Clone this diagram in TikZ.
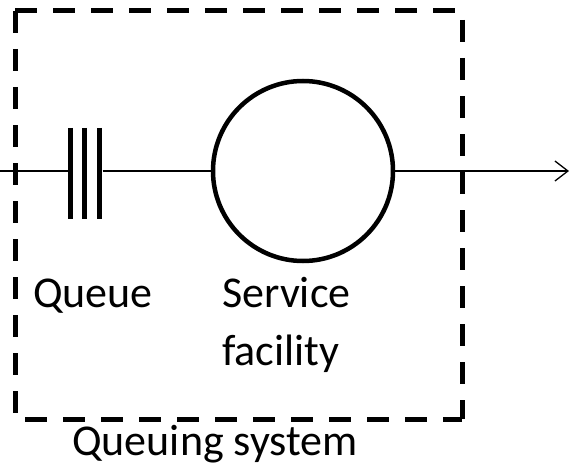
\documentclass[tikz,border=0pt]{standalone}
\usepackage{fontspec}
\setmainfont{Carlito}
\usetikzlibrary{arrows.meta}
\begin{document}
\begin{tikzpicture}[x=1pt,y=1pt,
  flow/.style={line width=1.3pt},
  bar/.style={line width=5pt},
  server/.style={circle,draw,line width=4.5pt,minimum size=180pt,inner sep=0pt},
  label/.style={inner sep=0pt,anchor=base west,font=\fontsize{44}{58}\selectfont},
  boundary/.style={line width=5pt,dash pattern=on 22pt off 16pt}]
  \useasboundingbox (0,0) rectangle (570,467);
  % system boundary
  \draw[boundary] (15,456) -- (462,456) -- (462,48);
  \draw[boundary] (15,456) -- (15,48) -- (462,48);
  % queue (three parallel bars)
  \node[minimum width=34pt,minimum height=91pt,inner sep=0pt] (q) at (85.5,293.5) {};
  \foreach \dx in {2.5,16.5,31.5}
    \draw[bar] ([xshift=\dx pt]q.north west) -- ([xshift=\dx pt]q.south west);
  % service facility
  \node[server] (s) at (303,296) {};
  % flow line
  \coordinate (in) at (0,296);
  \coordinate (out) at (569,296);
  \draw[flow] (in) -- (in -| q.west);
  \draw[flow] (in -| q.east) -- (s.west);
  \draw[flow,-{Straight Barb[length=13pt,width=20pt]}] (s.east) -- (out);
  % labels
  \node[label] (lq) at (33,160) {Queue};
  \node[label,align=left] (ls) at (222,102) {Service\\facility};
  \node[label] (lsys) at (72,12) {Queuing system};
\end{tikzpicture}
\end{document}
